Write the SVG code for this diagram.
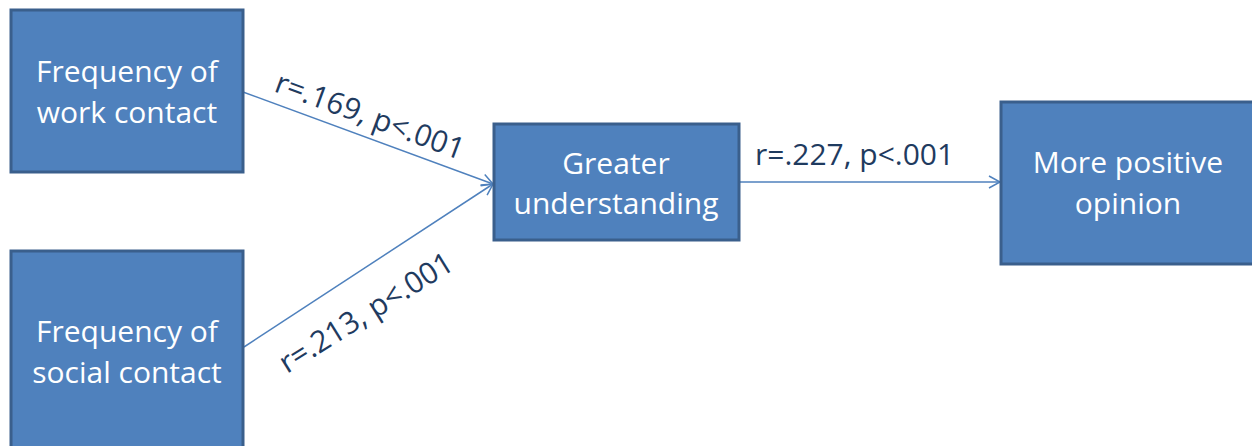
<svg xmlns="http://www.w3.org/2000/svg" width="1252" height="446" viewBox="0 0 1252 446">
  <style>
    .box { fill: #4F81BD; stroke: #3A5F8C; stroke-width: 3; }
    .node-text { font-family: "Open Sans", "Liberation Sans", sans-serif; font-size: 30px; fill: #FFFFFF; text-anchor: middle; }
    .edge { stroke: #4F81BD; stroke-width: 1.5; fill: none; marker-end: url(#arrow); }
    .edge-label { font-family: "Open Sans", "Liberation Sans", sans-serif; font-size: 30px; fill: #1F3B5F; }
  </style>
  <defs>
    <marker id="arrow" markerWidth="16" markerHeight="16" refX="13" refY="8" orient="auto" markerUnits="userSpaceOnUse">
      <path d="M2,2 L13,8 L2,14" fill="none" stroke="#4F81BD" stroke-width="1.5"/>
    </marker>
  </defs>

  <!-- connectors -->
  <g id="connectors">
    <line class="edge" x1="243" y1="92" x2="493" y2="184"/>
    <line class="edge" x1="244" y1="347" x2="493" y2="184"/>
    <line class="edge" x1="739" y1="182" x2="1000" y2="182"/>
    <text class="edge-label" transform="translate(273,91) rotate(20.3)">r=.169, p&lt;.001</text>
    <text class="edge-label" transform="translate(287,374) rotate(-32)">r=.213, p&lt;.001</text>
    <text class="edge-label" x="755" y="165">r=.227, p&lt;.001</text>
  </g>

  <g id="work-contact">
    <rect class="box" x="11" y="10" width="232" height="162"/>
    <text class="node-text" x="127" y="82">Frequency of</text>
    <text class="node-text" x="127" y="123">work contact</text>
  </g>

  <g id="social-contact">
    <rect class="box" x="11" y="251" width="232" height="215"/>
    <text class="node-text" x="127" y="342">Frequency of</text>
    <text class="node-text" x="127" y="383">social contact</text>
  </g>

  <g id="understanding">
    <rect class="box" x="494" y="124" width="245" height="116"/>
    <text class="node-text" x="616" y="174">Greater</text>
    <text class="node-text" x="616" y="214">understanding</text>
  </g>

  <g id="opinion">
    <rect class="box" x="1001" y="102" width="256" height="162"/>
    <text class="node-text" x="1128" y="173">More positive</text>
    <text class="node-text" x="1128" y="214">opinion</text>
  </g>
</svg>
